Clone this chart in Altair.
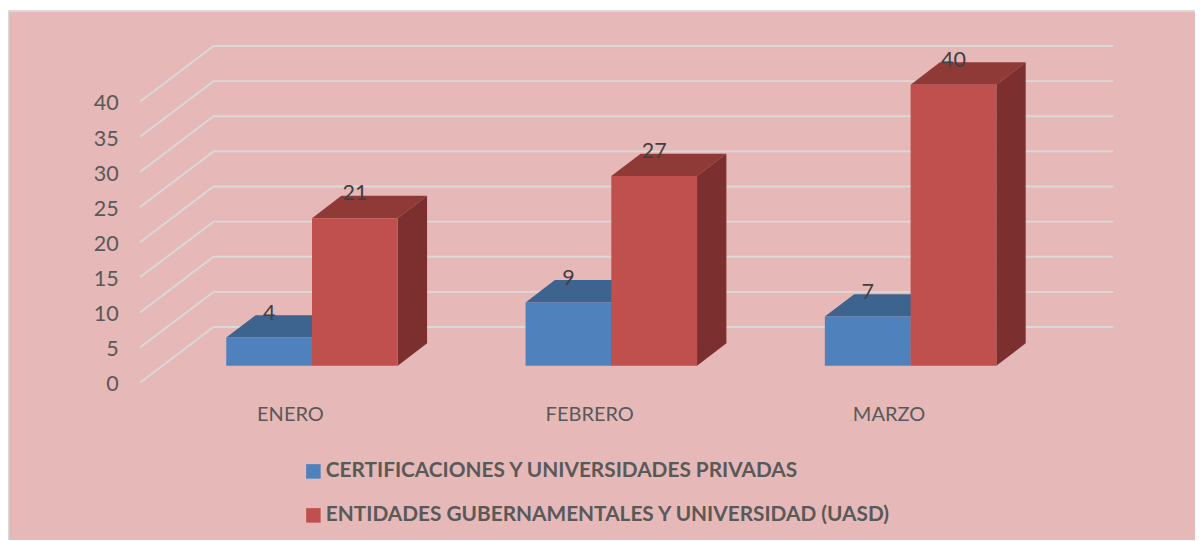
import altair as alt
import pandas as pd

# ---- values ----
MONTHS = ["ENERO", "FEBRERO", "MARZO"]
SERIES = ["CERTIFICACIONES Y UNIVERSIDADES PRIVADAS",
          "ENTIDADES GUBERNAMENTALES Y UNIVERSIDAD (UASD)"]
CERT = [4, 9, 7]
ENTI = [21, 27, 40]
TICKS = [0, 5, 10, 15, 20, 25, 30, 35, 40]

FRONT = ["#4F81BD", "#C0504D"]
TOP = ["#3D638F", "#903A38"]
SIDE = ["#2F4B6E", "#7B2F2E"]
BG = "#E6B8B7"
GRID = "#D9D9D9"
FONT = "Lato"

# ---- oblique projection, in axis units (1 x unit = one category, 1 y unit = one count) ----
W, H = 1187, 532
BAR_W = 0.2865
DX, DY = 0.098, 3.19              # depth of a bar
WALL_FRONT_X, WALL_FRONT_Y = -0.5747, -2.42
WALL_BACK_X, WALL_BACK_Y = -0.329, 5.51
WALL_END_X = 2.677
X_DOM = [-1.0157, 2.9502]
Y_DOM = [-24.81, 50.92]
x_s = alt.Scale(domain=X_DOM, range=[0, W], nice=False, zero=False)
y_s = alt.Scale(domain=Y_DOM, range=[H, 0], nice=False, zero=False)

front, tops, sides, labels = [], [], [], []
for s, vals in enumerate([CERT, ENTI]):
    for i, v in enumerate(vals):
        xl = i + (s - 1) * BAR_W
        xr = xl + BAR_W
        front.append(dict(series=SERIES[s], x=xl, x2=xr, y=0, y2=v))
        fid = f"{s}-{i}"
        for px, lo, hi in [(xl, v, v), (xl + DX, v, v + DY), (xr, v, v + DY), (xr + DX, v + DY, v + DY)]:
            tops.append(dict(id=fid, c=TOP[s], x=px, y=lo, y2=hi))
        for px, lo, hi in [(xr, 0, v), (xr + DX, DY, v + DY)]:
            sides.append(dict(id=fid, c=SIDE[s], x=px, y=lo, y2=hi))
        labels.append(dict(x=(xl + xr) / 2, y=v + 3.4, t=str(v)))

grid = []
for t in TICKS:
    for o, (px, off) in enumerate([(WALL_FRONT_X, WALL_FRONT_Y), (WALL_BACK_X, WALL_BACK_Y), (WALL_END_X, WALL_BACK_Y)]):
        grid.append(dict(t=t, o=o, x=px, y=t + off))

ytext = pd.DataFrame(dict(x=[-0.646] * len(TICKS), y=[t - 2.8 for t in TICKS], t=[str(t) for t in TICKS]))
xtext = pd.DataFrame(dict(x=[i - 0.072 for i in range(3)], y=[-7.03] * 3, t=MONTHS))

X = alt.X("x:Q", scale=x_s, axis=None)
Y = alt.Y("y:Q", scale=y_s, axis=None)

frame = alt.Chart(pd.DataFrame({"a": [0]})).mark_rect(fill=BG, stroke=GRID, strokeWidth=2).encode(
    x=alt.value(0.3), x2=alt.value(W + 10), y=alt.value(3), y2=alt.value(H + 10))

grid_l = alt.Chart(pd.DataFrame(grid)).mark_line(color=GRID, strokeWidth=1.9).encode(
    x=X, y=Y, detail="t:N", order="o:Q")

top_l = alt.Chart(pd.DataFrame(tops)).mark_area(interpolate="linear").encode(
    x=X, y=Y, y2="y2:Q", detail="id:N",
    fill=alt.Fill("c:N", scale=None))

side_l = alt.Chart(pd.DataFrame(sides)).mark_area(interpolate="linear").encode(
    x=X, y=Y, y2="y2:Q", detail="id:N",
    fill=alt.Fill("c:N", scale=None))

front_l = alt.Chart(pd.DataFrame(front)).mark_rect().encode(
    x=X, x2="x2:Q", y=Y, y2="y2:Q",
    color=alt.Color("series:N",
                    scale=alt.Scale(domain=SERIES, range=FRONT),
                    legend=alt.Legend(title=None, orient="none", legendX=295, legendY=453,
                                      symbolType="square", symbolSize=210, symbolStrokeWidth=0,
                                      labelFont=FONT, labelFontWeight="bold", labelFontSize=20.8,
                                      labelColor="#595959", labelLimit=800, rowPadding=22,
                                      labelOffset=2)))

def text_layer(df, size, **kw):
    return alt.Chart(df).mark_text(font=FONT, fontSize=size, baseline="middle", **kw).encode(x=X, y=Y, text="t:N")

y_l = text_layer(ytext, 21.5, color="#595959", align="right")
x_l = text_layer(xtext, 20, color="#595959", align="center")
val_l = text_layer(pd.DataFrame(labels), 21.5, color="#404040", align="center")

chart = alt.layer(frame, grid_l, top_l, side_l, front_l, y_l, x_l, val_l).properties(
    width=W, height=H, padding=0, background="white",
    autosize=alt.AutoSizeParams(type="none")
).configure_view(stroke=None)

chart.save("out.html", embed_options={"renderer": "svg", "actions": False})
